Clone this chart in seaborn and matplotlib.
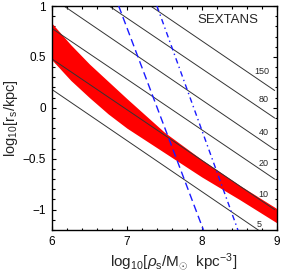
import seaborn as sns
import matplotlib
matplotlib.use("Agg")
import matplotlib.pyplot as plt
from matplotlib.ticker import MultipleLocator, FuncFormatter
import pandas as pd

# log10 rho_s grid for the red confidence band
rho = [6.0, 6.25, 6.5, 6.75, 7.0, 7.5, 8.0, 8.5, 9.0]
rs_upper = [0.83, 0.62, 0.43, 0.26, 0.09, -0.24, -0.51, -0.76, -0.99]
rs_lower = [0.47, 0.27, 0.10, -0.06, -0.20, -0.44, -0.68, -0.90, -1.13]

# constant-Vmax lines (km/s), values at the two ends
vmax = [5, 10, 20, 40, 80, 150]
vline_x = [6.0, 8.97]
vline_left = [0.18, 0.48, 0.78, 1.08, 1.38, 1.66]
vline_right = [-1.31, -1.00, -0.70, -0.41, -0.10, 0.17]
label_x = [8.77, 8.82, 8.82, 8.82, 8.82, 8.80]
label_y = [-1.15, -0.85, -0.55, -0.245, 0.078, 0.353]

# blue limits
dash_x = [6.89, 8.02]
dash_y = [1.0, -1.2]
dashdot_x = [7.40, 8.48]
dashdot_y = [1.0, -1.2]

sns.set_style("ticks")
plt.rcParams["font.family"] = ["Liberation Sans", "DejaVu Sans"]
plt.rcParams["mathtext.fontset"] = "custom"
plt.rcParams["mathtext.rm"] = "Liberation Sans"
plt.rcParams["mathtext.it"] = "Liberation Sans:italic"

fig = plt.figure(figsize=(2.84, 2.73), dpi=100)
ax = fig.add_axes([0.183, 0.1575, 0.792, 0.8205])

ax.fill_between(rho, rs_lower, rs_upper, color="#ff0000", lw=0, zorder=1)

# long format for the Vmax lines
rows = []
for v, y0, y1 in zip(vmax, vline_left, vline_right):
    rows.append({"V": v, "x": vline_x[0], "y": y0})
    rows.append({"V": v, "x": vline_x[1], "y": y1})
df_lines = pd.DataFrame(rows)
sns.lineplot(data=df_lines, x="x", y="y", units="V", estimator=None,
             color="#333333", lw=0.7, ax=ax, zorder=2)

for v, lx, ly in zip(vmax, label_x, label_y):
    ax.text(lx, ly, str(v), fontsize=6.5, ha="center", va="center")

sns.lineplot(x=dash_x, y=dash_y, color="#1a1aff", lw=1.0, ax=ax, zorder=3)
ax.lines[-1].set_dashes([5.5, 3])
sns.lineplot(x=dashdot_x, y=dashdot_y, color="#1a1aff", lw=1.0, ax=ax, zorder=3)
ax.lines[-1].set_dashes([4, 2.5, 1, 2.5])

ax.text(8.35, 0.86, "SEXTANS", fontsize=9.5, ha="center", va="center")

ax.set_xlim(6, 9)
ax.set_ylim(-1.2, 1)
ax.xaxis.set_major_locator(MultipleLocator(1))
ax.xaxis.set_minor_locator(MultipleLocator(0.2))
ax.yaxis.set_major_locator(MultipleLocator(0.5))
ax.yaxis.set_minor_locator(MultipleLocator(0.1))
fmt = FuncFormatter(lambda v, p: ("%g" % v).replace("-", "\u2212"))
ax.xaxis.set_major_formatter(fmt)
ax.yaxis.set_major_formatter(fmt)
ax.tick_params(which="both", direction="in", top=True, right=True,
               labelsize=8.5, width=0.8, colors="black")
ax.tick_params(which="major", length=3.2, pad=4.5)
ax.tick_params(which="minor", length=1.8)
for s in ax.spines.values():
    s.set_linewidth(1.0)
    s.set_color("black")

ax.set_xlabel(r"$\mathrm{log_{10}[}\rho_\mathrm{s}\mathrm{/M_{\odot}\ \ kpc^{-3}]}$",
              fontsize=11)
ax.set_ylabel(r"$\mathrm{log_{10}[r_s/kpc]}$", fontsize=10.5)
ax.xaxis.set_label_coords(0.54, -0.092)
ax.yaxis.set_label_coords(-0.14, 0.5)

fig.savefig("out.png", dpi=100)
